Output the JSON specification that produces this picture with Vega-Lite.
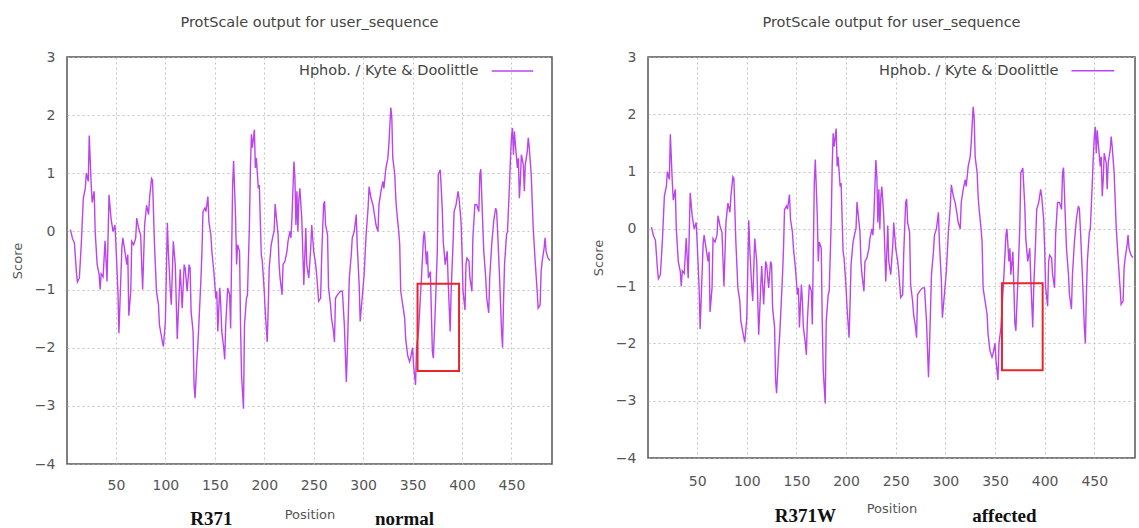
{
  "$schema": "https://vega.github.io/schema/vega-lite/v6.json",
  "background": "white",
  "padding": {"left": 10, "top": 13, "right": 0, "bottom": 0},
  "spacing": 37,
  "config": {
    "font": "DejaVu Sans",
    "view": {"stroke": "#555555", "strokeWidth": 1.5},
    "axis": {"domain": false, "ticks": false, "grid": true, "gridColor": "#b5b5b5", "gridDash": [2, 3], "gridWidth": 0.8,
      "labelFont": "DejaVu Sans", "labelFontSize": 14, "labelColor": "#555555",
      "titleFont": "DejaVu Sans", "titleFontSize": 13, "titleFontWeight": "normal", "titleColor": "#555555"},
    "title": {"font": "DejaVu Sans", "fontSize": 14.5, "fontWeight": "normal", "color": "#444444"}
  },
  "datasets": {
    "kd": [
      {"p":4,"n":0.03,"a":0.03},{"p":6,"n":-0.12,"a":-0.12},{"p":8,"n":-0.2,"a":-0.2},{"p":10,"n":-0.7,"a":-0.7},{"p":11,"n":-0.87,"a":-0.87},
      {"p":13,"n":-0.8,"a":-0.8},{"p":15,"n":-0.2,"a":-0.2},{"p":17,"n":0.57,"a":0.57},{"p":19,"n":0.74,"a":0.74},{"p":20,"n":1.0,"a":1.0},
      {"p":22,"n":0.86,"a":0.86},{"p":23,"n":1.65,"a":1.65},{"p":25,"n":0.8,"a":0.8},{"p":26,"n":0.5,"a":0.5},{"p":28,"n":0.69,"a":0.69},
      {"p":29,"n":0.0,"a":0.0},{"p":31,"n":-0.57,"a":-0.57},{"p":33,"n":-0.74,"a":-0.74},{"p":34,"n":-1.0,"a":-1.0},{"p":35,"n":-0.73,"a":-0.73},
      {"p":37,"n":-0.78,"a":-0.78},{"p":39,"n":-0.16,"a":-0.16},{"p":41,"n":-0.86,"a":-0.86},{"p":43,"n":0.63,"a":0.63},{"p":45,"n":0.23,"a":0.23},
      {"p":47,"n":0.0,"a":0.0},{"p":49,"n":0.11,"a":0.11},{"p":50,"n":-0.23,"a":-0.23},{"p":52,"n":-1.03,"a":-1.03},{"p":53,"n":-1.75,"a":-1.75},
      {"p":54,"n":-1.26,"a":-1.26},{"p":56,"n":-0.28,"a":-0.28},{"p":57,"n":-0.11,"a":-0.11},{"p":59,"n":-0.34,"a":-0.34},{"p":61,"n":-0.57,"a":-0.57},
      {"p":62,"n":-0.4,"a":-0.4},{"p":63,"n":-1.45,"a":-1.45},{"p":65,"n":-1.03,"a":-1.03},{"p":66,"n":-0.17,"a":-0.17},{"p":68,"n":-0.23,"a":-0.23},
      {"p":70,"n":-0.11,"a":-0.11},{"p":71,"n":0.23,"a":0.23},{"p":73,"n":0.05,"a":0.05},{"p":75,"n":-0.06,"a":-0.06},{"p":77,"n":-1.0,"a":-1.0},
      {"p":78,"n":-0.46,"a":-0.46},{"p":79,"n":0.11,"a":0.11},{"p":81,"n":0.45,"a":0.45},{"p":83,"n":0.29,"a":0.29},{"p":84,"n":0.57,"a":0.57},
      {"p":86,"n":0.91,"a":0.91},{"p":87,"n":0.88,"a":0.88},{"p":89,"n":-0.23,"a":-0.23},{"p":91,"n":-1.03,"a":-1.03},{"p":93,"n":-1.26,"a":-1.26},
      {"p":94,"n":-1.61,"a":-1.61},{"p":97,"n":-1.9,"a":-1.9},{"p":98,"n":-1.98,"a":-1.98},{"p":100,"n":-1.55,"a":-1.55},{"p":102,"n":0.15,"a":0.15},
      {"p":103,"n":-0.34,"a":-0.34},{"p":105,"n":-1.03,"a":-1.03},{"p":106,"n":-1.26,"a":-1.26},{"p":108,"n":-0.17,"a":-0.17},{"p":110,"n":-0.57,"a":-0.57},
      {"p":112,"n":-1.85,"a":-1.85},{"p":114,"n":-1.03,"a":-1.03},{"p":115,"n":-0.65,"a":-0.65},{"p":117,"n":-1.32,"a":-1.32},{"p":119,"n":-0.57,"a":-0.57},
      {"p":120,"n":-0.63,"a":-0.63},{"p":122,"n":-1.03,"a":-1.03},{"p":124,"n":-0.57,"a":-0.57},{"p":125,"n":-0.63,"a":-0.63},{"p":126,"n":-1.38,"a":-1.38},
      {"p":128,"n":-1.72,"a":-1.72},{"p":129,"n":-2.64,"a":-2.64},{"p":130,"n":-2.87,"a":-2.87},{"p":132,"n":-2.18,"a":-2.18},{"p":133,"n":-1.9,"a":-1.9},
      {"p":134,"n":-1.55,"a":-1.55},{"p":136,"n":-0.8,"a":-0.8},{"p":137,"n":-0.34,"a":-0.34},{"p":138,"n":0.34,"a":0.34},{"p":140,"n":0.4,"a":0.4},
      {"p":141,"n":0.34,"a":0.34},{"p":143,"n":0.6,"a":0.6},{"p":144,"n":0.17,"a":0.17},{"p":146,"n":-0.06,"a":-0.06},{"p":147,"n":-0.34,"a":-0.34},
      {"p":149,"n":-0.69,"a":-0.69},{"p":150,"n":-0.92,"a":-0.92},{"p":151,"n":-1.15,"a":-1.15},{"p":152,"n":-1.03,"a":-1.03},{"p":153,"n":-1.72,"a":-1.72},
      {"p":155,"n":-0.97,"a":-0.97},{"p":156,"n":-1.26,"a":-1.26},{"p":157,"n":-1.72,"a":-1.72},{"p":159,"n":-2.0,"a":-2.0},{"p":160,"n":-2.2,"a":-2.2},
      {"p":161,"n":-1.61,"a":-1.61},{"p":163,"n":-0.97,"a":-0.97},{"p":165,"n":-1.09,"a":-1.09},{"p":166,"n":-1.67,"a":-1.67},{"p":167,"n":-0.4,"a":-0.4},
      {"p":168,"n":0.8,"a":0.8},{"p":169,"n":1.21,"a":1.21},{"p":171,"n":0.23,"a":0.23},{"p":172,"n":-0.57,"a":-0.57},{"p":173,"n":-0.23,"a":-0.23},
      {"p":175,"n":-0.34,"a":-0.34},{"p":176,"n":-1.61,"a":-1.61},{"p":177,"n":-2.47,"a":-2.47},{"p":179,"n":-3.05,"a":-3.05},{"p":180,"n":-1.61,"a":-1.61},
      {"p":182,"n":-1.15,"a":-1.15},{"p":183,"n":-1.09,"a":-1.09},{"p":185,"n":0.11,"a":0.11},{"p":186,"n":1.09,"a":1.09},{"p":187,"n":1.67,"a":1.67},
      {"p":188,"n":1.44,"a":1.44},{"p":190,"n":1.75,"a":1.75},{"p":191,"n":1.09,"a":1.09},{"p":192,"n":1.26,"a":1.26},{"p":194,"n":0.74,"a":0.74},
      {"p":195,"n":0.8,"a":0.8},{"p":197,"n":-0.4,"a":-0.4},{"p":198,"n":-0.51,"a":-0.51},{"p":200,"n":-1.03,"a":-1.03},{"p":201,"n":-1.38,"a":-1.38},
      {"p":203,"n":-1.9,"a":-1.9},{"p":204,"n":-1.32,"a":-1.32},{"p":205,"n":-0.63,"a":-0.63},{"p":207,"n":-0.23,"a":-0.23},{"p":209,"n":-0.06,"a":-0.06},
      {"p":210,"n":0.0,"a":0.0},{"p":211,"n":0.47,"a":0.47},{"p":212,"n":0.29,"a":0.29},{"p":214,"n":-0.06,"a":-0.06},{"p":215,"n":-0.57,"a":-0.57},
      {"p":216,"n":-0.8,"a":-0.8},{"p":218,"n":-1.09,"a":-1.09},{"p":219,"n":-0.57,"a":-0.57},{"p":221,"n":-0.51,"a":-0.51},{"p":223,"n":-0.34,"a":-0.34},
      {"p":224,"n":-0.17,"a":-0.17},{"p":226,"n":0.0,"a":0.0},{"p":227,"n":-0.11,"a":-0.11},{"p":228,"n":0.23,"a":0.23},{"p":230,"n":1.2,"a":1.2},
      {"p":231,"n":0.92,"a":0.92},{"p":232,"n":0.11,"a":0.11},{"p":233,"n":0.69,"a":0.69},{"p":234,"n":0.0,"a":0.0},{"p":235,"n":0.55,"a":0.55},
      {"p":236,"n":0.74,"a":0.74},{"p":238,"n":0.2,"a":0.2},{"p":240,"n":-0.92,"a":-0.92},{"p":242,"n":0.06,"a":0.06},{"p":243,"n":-0.57,"a":-0.57},
      {"p":245,"n":-0.8,"a":-0.8},{"p":247,"n":-0.29,"a":-0.29},{"p":248,"n":0.11,"a":0.11},{"p":250,"n":-0.34,"a":-0.34},{"p":252,"n":-0.57,"a":-0.57},
      {"p":253,"n":-0.74,"a":-0.74},{"p":255,"n":-1.2,"a":-1.2},{"p":257,"n":-1.15,"a":-1.15},{"p":258,"n":-0.46,"a":-0.46},{"p":260,"n":0.46,"a":0.46},
      {"p":261,"n":0.52,"a":0.52},{"p":262,"n":0.11,"a":0.11},{"p":264,"n":-0.06,"a":-0.06},{"p":265,"n":-0.97,"a":-0.97},{"p":267,"n":-1.26,"a":-1.26},
      {"p":268,"n":-1.49,"a":-1.49},{"p":270,"n":-1.72,"a":-1.72},{"p":271,"n":-1.9,"a":-1.9},{"p":272,"n":-1.15,"a":-1.15},{"p":274,"n":-1.09,"a":-1.09},
      {"p":277,"n":-1.03,"a":-1.03},{"p":279,"n":-1.03,"a":-1.03},{"p":281,"n":-1.61,"a":-1.61},{"p":283,"n":-2.59,"a":-2.59},{"p":284,"n":-2.07,"a":-2.07},
      {"p":286,"n":-0.8,"a":-0.8},{"p":288,"n":-0.4,"a":-0.4},{"p":289,"n":-0.11,"a":-0.11},{"p":291,"n":0.0,"a":0.0},{"p":293,"n":0.29,"a":0.29},
      {"p":294,"n":-0.23,"a":-0.23},{"p":296,"n":-0.92,"a":-0.92},{"p":297,"n":-1.55,"a":-1.55},{"p":299,"n":-1.15,"a":-1.15},{"p":301,"n":-0.74,"a":-0.74},
      {"p":303,"n":-0.06,"a":-0.06},{"p":305,"n":0.4,"a":0.4},{"p":306,"n":0.77,"a":0.77},{"p":308,"n":0.57,"a":0.57},{"p":310,"n":0.45,"a":0.45},
      {"p":311,"n":0.34,"a":0.34},{"p":313,"n":0.11,"a":0.11},{"p":315,"n":0.0,"a":0.0},{"p":316,"n":0.46,"a":0.46},{"p":318,"n":0.69,"a":0.69},
      {"p":320,"n":0.86,"a":0.86},{"p":321,"n":0.74,"a":0.74},{"p":323,"n":1.09,"a":1.09},{"p":325,"n":1.26,"a":1.26},{"p":326,"n":1.49,"a":1.49},
      {"p":328,"n":2.13,"a":2.13},{"p":329,"n":1.95,"a":1.95},{"p":330,"n":1.26,"a":1.26},{"p":332,"n":0.98,"a":0.98},{"p":333,"n":0.57,"a":0.57},
      {"p":334,"n":0.34,"a":0.34},{"p":336,"n":0.0,"a":0.0},{"p":337,"n":-0.23,"a":-0.23},{"p":338,"n":-1.03,"a":-1.03},{"p":340,"n":-1.26,"a":-1.26},
      {"p":342,"n":-1.49,"a":-1.49},{"p":343,"n":-1.84,"a":-1.84},{"p":345,"n":-2.13,"a":-2.13},{"p":347,"n":-2.24,"a":-2.24},{"p":348,"n":-2.18,"a":-2.18},
      {"p":350,"n":-2.0,"a":-2.0},{"p":351,"n":-2.3,"a":-2.3},{"p":353,"n":-2.64,"a":-2.64},{"p":354,"n":-2.0,"a":-2.0},{"p":356,"n":-1.72,"a":-1.72},
      {"p":358,"n":-1.1,"a":-1.1},{"p":359,"n":-0.8,"a":-0.8},{"p":361,"n":-0.11,"a":-0.11},{"p":362,"n":0.0,"a":0.0},{"p":364,"n":-0.57,"a":-0.57},
      {"p":365,"n":-0.34,"a":-0.34},{"p":366,"n":-0.8,"a":-0.8},{"p":368,"n":-0.69,"a":-0.4},{"p":369,"n":-1.38,"a":-1.0},{"p":370,"n":-2.07,"a":-1.65},
      {"p":371,"n":-2.18,"a":-1.78},{"p":373,"n":-1.32,"a":-0.92},{"p":375,"n":-0.34,"a":0.06},{"p":376,"n":0.98,"a":0.98},{"p":378,"n":1.06,"a":1.06},
      {"p":380,"n":0.4,"a":0.4},{"p":381,"n":-0.17,"a":-0.17},{"p":383,"n":-0.57,"a":-0.57},{"p":385,"n":-0.34,"a":-0.34},{"p":386,"n":-0.86,"a":-0.86},
      {"p":388,"n":-1.72,"a":-1.72},{"p":389,"n":-1.03,"a":-1.03},{"p":391,"n":-0.17,"a":-0.17},{"p":392,"n":0.34,"a":0.34},{"p":394,"n":0.46,"a":0.46},
      {"p":396,"n":0.69,"a":0.69},{"p":397,"n":0.57,"a":0.57},{"p":399,"n":0.17,"a":0.17},{"p":400,"n":-0.34,"a":-0.34},{"p":401,"n":-1.03,"a":-1.03},
      {"p":403,"n":-1.35,"a":-1.35},{"p":404,"n":-0.57,"a":-0.57},{"p":405,"n":-0.46,"a":-0.46},{"p":407,"n":-0.51,"a":-0.51},{"p":408,"n":-0.8,"a":-0.8},
      {"p":410,"n":-1.03,"a":-1.03},{"p":411,"n":-0.11,"a":-0.11},{"p":413,"n":0.46,"a":0.46},{"p":415,"n":0.46,"a":0.46},{"p":417,"n":0.34,"a":0.34},
      {"p":418,"n":0.98,"a":0.98},{"p":419,"n":1.07,"a":1.07},{"p":421,"n":0.11,"a":0.11},{"p":422,"n":-0.34,"a":-0.34},{"p":424,"n":-0.8,"a":-0.8},
      {"p":425,"n":-1.15,"a":-1.15},{"p":427,"n":-1.4,"a":-1.4},{"p":428,"n":-0.8,"a":-0.8},{"p":430,"n":-0.23,"a":-0.23},{"p":432,"n":0.17,"a":0.17},
      {"p":433,"n":0.29,"a":0.29},{"p":434,"n":0.4,"a":0.4},{"p":435,"n":0.35,"a":0.35},{"p":436,"n":0.0,"a":0.0},{"p":437,"n":-0.4,"a":-0.4},
      {"p":438,"n":-0.8,"a":-0.8},{"p":439,"n":-1.26,"a":-1.26},{"p":440,"n":-1.72,"a":-1.72},{"p":441,"n":-2.0,"a":-2.0},{"p":442,"n":-1.2,"a":-1.2},
      {"p":443,"n":-0.57,"a":-0.57},{"p":445,"n":-0.06,"a":-0.06},{"p":446,"n":0.0,"a":0.0},{"p":448,"n":0.8,"a":0.8},{"p":449,"n":1.26,"a":1.26},
      {"p":450,"n":1.61,"a":1.61},{"p":451,"n":1.78,"a":1.78},{"p":452,"n":1.32,"a":1.32},{"p":453,"n":1.72,"a":1.72},{"p":454,"n":1.49,"a":1.49},
      {"p":456,"n":1.09,"a":1.09},{"p":457,"n":1.26,"a":1.26},{"p":458,"n":0.57,"a":0.57},{"p":459,"n":0.86,"a":0.86},{"p":460,"n":1.32,"a":1.32},
      {"p":462,"n":1.15,"a":1.15},{"p":463,"n":0.69,"a":0.69},{"p":464,"n":1.15,"a":1.15},{"p":466,"n":1.38,"a":1.38},{"p":467,"n":1.61,"a":1.61},
      {"p":468,"n":1.44,"a":1.44},{"p":470,"n":0.97,"a":0.97},{"p":471,"n":0.52,"a":0.52},{"p":472,"n":0.06,"a":0.06},{"p":474,"n":-0.52,"a":-0.52},
      {"p":476,"n":-1.03,"a":-1.03},{"p":477,"n":-1.32,"a":-1.32},{"p":479,"n":-1.26,"a":-1.26},{"p":480,"n":-0.69,"a":-0.69},{"p":481,"n":-0.52,"a":-0.52},
      {"p":483,"n":-0.29,"a":-0.29},{"p":484,"n":-0.11,"a":-0.11},{"p":485,"n":-0.34,"a":-0.34},{"p":487,"n":-0.46,"a":-0.46},{"p":489,"n":-0.5,"a":-0.5}
    ]
  },
  "hconcat": [
    {
      "width": 485,
      "height": 407,
      "title": {"text": "ProtScale output for user_sequence", "offset": 20},
      "encoding": {
        "x": {"field": "p", "type": "quantitative", "scale": {"domain": [0.5, 491], "nice": false, "zero": false},
          "axis": {"title": "Position", "values": [50, 100, 150, 200, 250, 300, 350, 400, 450], "labelPadding": 14, "titlePadding": 16}},
        "y": {"field": "n", "type": "quantitative", "scale": {"domain": [-4, 3], "nice": false},
          "axis": {"title": "Score", "values": [-4, -3, -2, -1, 0, 1, 2, 3], "labelPadding": 12, "titlePadding": 10}}
      },
      "layer": [
        {
          "data": {"name": "kd"},
          "mark": {"type": "line", "color": "#bb44ee", "strokeWidth": 1.4}
        },
        {
          "data": {"values": [{"p": 355, "p2": 397, "n": -0.9, "n2": -2.4}]},
          "mark": {"type": "rect", "fill": "transparent", "stroke": "#e8262a", "strokeWidth": 2},
          "encoding": {"x2": {"field": "p2"}, "y2": {"field": "n2"}}
        },
        {
          "data": {"values": [{"p": 430, "p2": 472, "n": 2.76}]},
          "mark": {"type": "rule", "color": "#bb44ee", "strokeWidth": 1.5},
          "encoding": {"x2": {"field": "p2"}}
        },
        {
          "data": {"values": [{"p": 416.7, "n": 2.76, "t": "Hphob. / Kyte & Doolittle"}]},
          "mark": {"type": "text", "align": "right", "baseline": "middle", "font": "DejaVu Sans", "fontSize": 14.5, "color": "#444444"},
          "encoding": {"text": {"field": "t"}}
        },
        {
          "data": {"values": [{"p": 146.6, "n": -4.95, "t": "R371"}, {"p": 341.8, "n": -4.95, "t": "normal"}]},
          "mark": {"type": "text", "align": "center", "baseline": "middle", "font": "Liberation Serif", "fontSize": 19, "fontWeight": "bold", "color": "#111111"},
          "encoding": {"text": {"field": "t"}}
        }
      ]
    },
    {
      "width": 487,
      "height": 401,
      "title": {"text": "ProtScale output for user_sequence", "offset": 20},
      "encoding": {
        "x": {"field": "p", "type": "quantitative", "scale": {"domain": [0.5, 491], "nice": false, "zero": false},
          "axis": {"title": "Position", "values": [50, 100, 150, 200, 250, 300, 350, 400, 450], "labelPadding": 16, "titlePadding": 14}},
        "y": {"field": "a", "type": "quantitative", "scale": {"domain": [-4, 3], "nice": false},
          "axis": {"title": "Score", "values": [-4, -3, -2, -1, 0, 1, 2, 3], "labelPadding": 12, "titlePadding": 10}}
      },
      "layer": [
        {
          "data": {"name": "kd"},
          "mark": {"type": "line", "color": "#bb44ee", "strokeWidth": 1.4}
        },
        {
          "data": {"values": [{"p": 357, "p2": 398, "a": -0.95, "a2": -2.47}]},
          "mark": {"type": "rect", "fill": "transparent", "stroke": "#e8262a", "strokeWidth": 2},
          "encoding": {"x2": {"field": "p2"}, "y2": {"field": "a2"}}
        },
        {
          "data": {"values": [{"p": 427, "p2": 470, "a": 2.76}]},
          "mark": {"type": "rule", "color": "#bb44ee", "strokeWidth": 1.5},
          "encoding": {"x2": {"field": "p2"}}
        },
        {
          "data": {"values": [{"p": 414, "a": 2.76, "t": "Hphob. / Kyte & Doolittle"}]},
          "mark": {"type": "text", "align": "right", "baseline": "middle", "font": "DejaVu Sans", "fontSize": 14.5, "color": "#444444"},
          "encoding": {"text": {"field": "t"}}
        },
        {
          "data": {"values": [{"p": 159, "a": -5.02, "t": "R371W"}, {"p": 359.5, "a": -5.02, "t": "affected"}]},
          "mark": {"type": "text", "align": "center", "baseline": "middle", "font": "Liberation Serif", "fontSize": 19, "fontWeight": "bold", "color": "#111111"},
          "encoding": {"text": {"field": "t"}}
        }
      ]
    }
  ]
}
